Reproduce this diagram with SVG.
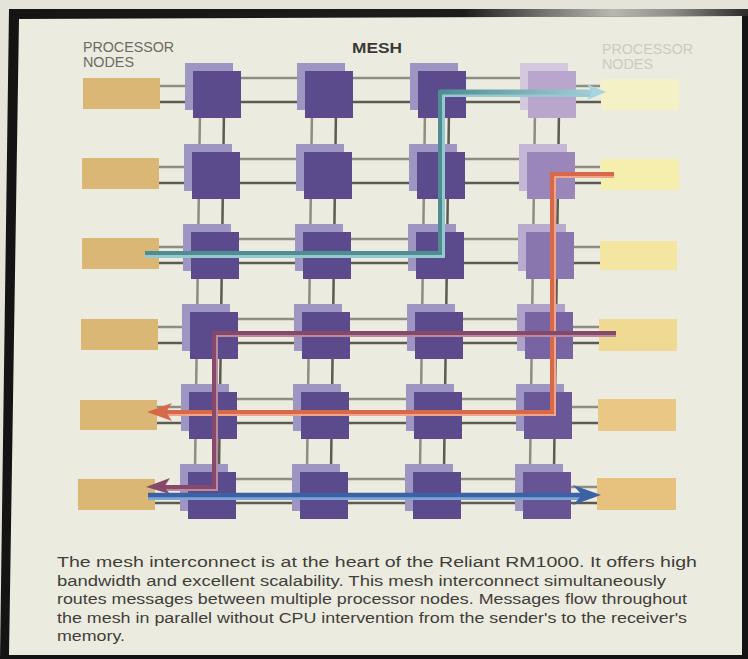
<svg xmlns="http://www.w3.org/2000/svg" width="748" height="659" viewBox="0 0 748 659">
  <style>
    .txt { font-family: "Liberation Sans", Arial, Helvetica, sans-serif; }
    .hdr { font-size: 14px; fill: #6d6a65; }
    .hdr-faint { font-size: 14px; fill: #cdcac2; }
    .title { font-size: 14px; font-weight: bold; fill: #3a3939; }
    .cap { font-size: 15.5px; fill: #3f3e3a; }
    .wire-a { stroke: #8f8d82; stroke-width: 2.5; fill: none; }
    .wire-b { stroke: #5c5b51; stroke-width: 2.5; fill: none; }
    .back { fill: #9d95c2; }
    .front { fill: #5b4b8d; }
    .pn-left { fill: #dab774; }
  </style>
  <defs>
    <linearGradient id="topBand" x1="0" y1="0" x2="748" y2="0" gradientUnits="userSpaceOnUse">
      <stop offset="0" stop-color="#151515"/>
      <stop offset="0.62" stop-color="#1c1c1c"/>
      <stop offset="0.72" stop-color="#6d6d6a"/>
      <stop offset="0.82" stop-color="#b9b8b0"/>
      <stop offset="0.9" stop-color="#8c8b86"/>
      <stop offset="1" stop-color="#2a2a2a"/>
    </linearGradient>
    <linearGradient id="tealFade" x1="440" y1="0" x2="606" y2="0" gradientUnits="userSpaceOnUse">
      <stop offset="0" stop-color="#4f8d93"/>
      <stop offset="1" stop-color="#a9d3de"/>
    </linearGradient>
  </defs>

  <!-- page and frame -->
  <rect x="0" y="0" width="748" height="659" fill="#e6e4d8"/>
  <polygon points="9,9 748,9 748,659 0,659" fill="#141414"/>
  <polygon points="9,9 748,9 748,16 9,19" fill="url(#topBand)"/>
  <polygon points="19,19 742,16 742,655 9,655" fill="#ecebdf"/>

  <!-- labels -->
  <g id="labels" class="txt">
    <text class="hdr" x="83" y="52" textLength="91" lengthAdjust="spacingAndGlyphs">PROCESSOR</text>
    <text class="hdr" x="83" y="67" textLength="51" lengthAdjust="spacingAndGlyphs">NODES</text>
    <text class="title" x="352" y="53" textLength="50" lengthAdjust="spacingAndGlyphs">MESH</text>
    <text class="hdr-faint" x="602" y="54" textLength="91" lengthAdjust="spacingAndGlyphs">PROCESSOR</text>
    <text class="hdr-faint" x="602" y="69" textLength="51" lengthAdjust="spacingAndGlyphs">NODES</text>
  </g>

  <!-- mesh links -->
  <g id="connectors">
    <!-- horizontal links, two per row -->
    <g id="row-links">
      <path class="wire-a" d="M158 86 H185 M241 78 H298 M353 78 H410 M466 78 H520 M576 86 H600"/>
      <path class="wire-b" d="M158 102 H602"/>
      <path class="wire-a" d="M157 167 H184 M240 159 H297 M352 159 H409 M465 159 H519 M575 167 H600"/>
      <path class="wire-b" d="M157 183 H601"/>
      <path class="wire-a" d="M156 247 H183 M239 239 H296 M351 239 H408 M464 239 H518 M574 247 H600"/>
      <path class="wire-b" d="M156 263 H600"/>
      <path class="wire-a" d="M155 327 H182 M238 319 H295 M350 319 H407 M463 319 H517 M573 327 H600"/>
      <path class="wire-b" d="M155 343 H599"/>
      <path class="wire-a" d="M154 407 H181 M237 399 H294 M349 399 H406 M462 399 H516 M572 407 H599"/>
      <path class="wire-b" d="M154 423 H598"/>
      <path class="wire-a" d="M153 487 H180 M236 479 H293 M348 479 H405 M461 479 H515 M571 487 H598"/>
      <path class="wire-b" d="M153 503 H598"/>
    </g>
    <!-- vertical links, two per column -->
    <g id="column-links">
      <path class="wire-a" d="M200 110 L195 470"/>
      <path class="wire-b" d="M224 110 L219 470"/>
      <path class="wire-a" d="M312 110 L307 470"/>
      <path class="wire-b" d="M336 110 L331 470"/>
      <path class="wire-a" d="M425 110 L420 470"/>
      <path class="wire-b" d="M449 110 L444 470"/>
      <path class="wire-a" d="M535 110 L530 470"/>
      <path class="wire-b" d="M559 110 L554 470"/>
    </g>
  </g>

  <!-- processor nodes, left side -->
  <g id="pn-left-1"><rect class="pn-left" x="83" y="78" width="77" height="31"/></g>
  <g id="pn-left-2"><rect class="pn-left" x="82" y="158" width="77" height="31"/></g>
  <g id="pn-left-3"><rect class="pn-left" x="82" y="238" width="77" height="31"/></g>
  <g id="pn-left-4"><rect class="pn-left" x="81" y="319" width="77" height="31"/></g>
  <g id="pn-left-5"><rect class="pn-left" x="80" y="400" width="77" height="30"/></g>
  <g id="pn-left-6"><rect class="pn-left" x="78" y="479" width="77" height="31"/></g>

  <!-- processor nodes, right side -->
  <g id="pn-right-1"><rect x="601" y="79" width="78" height="31" fill="#f4f1c6"/></g>
  <g id="pn-right-2"><rect x="601" y="159" width="78" height="31" fill="#f6eeac"/></g>
  <g id="pn-right-3"><rect x="600" y="241" width="77" height="29" fill="#f4e6a0"/></g>
  <g id="pn-right-4"><rect x="599" y="319" width="78" height="32" fill="#f0d993"/></g>
  <g id="pn-right-5"><rect x="598" y="399" width="78" height="32" fill="#eac784"/></g>
  <g id="pn-right-6"><rect x="597" y="478" width="79" height="32" fill="#e7c17e"/></g>

  <!-- mesh switches: back plate offset up-left, front plate -->
  <g id="sw-1-1"><rect class="back" x="185" y="63" width="48" height="47"/><rect class="front" x="193" y="71" width="48" height="47"/></g>
  <g id="sw-1-2"><rect class="back" x="297" y="63" width="48" height="47"/><rect class="front" x="305" y="71" width="48" height="47"/></g>
  <g id="sw-1-3"><rect class="back" x="410" y="63" width="48" height="47"/><rect class="front" x="418" y="71" width="48" height="47"/></g>
  <g id="sw-1-4"><rect x="520" y="63" width="48" height="47" fill="#d3c8de"/><rect x="528" y="71" width="48" height="47" fill="#b9a6cc"/></g>

  <g id="sw-2-1"><rect class="back" x="184" y="144" width="48" height="47"/><rect class="front" x="192" y="152" width="48" height="47"/></g>
  <g id="sw-2-2"><rect class="back" x="296" y="144" width="48" height="47"/><rect class="front" x="304" y="152" width="48" height="47"/></g>
  <g id="sw-2-3"><rect class="back" x="409" y="144" width="48" height="47"/><rect class="front" x="417" y="152" width="48" height="47"/></g>
  <g id="sw-2-4"><rect x="519" y="144" width="48" height="47" fill="#c4b7d6"/><rect x="527" y="152" width="48" height="47" fill="#9b86b9"/></g>

  <g id="sw-3-1"><rect class="back" x="183" y="224" width="48" height="47"/><rect class="front" x="191" y="232" width="48" height="47"/></g>
  <g id="sw-3-2"><rect class="back" x="295" y="224" width="48" height="47"/><rect class="front" x="303" y="232" width="48" height="47"/></g>
  <g id="sw-3-3"><rect class="back" x="408" y="224" width="48" height="47"/><rect class="front" x="416" y="232" width="48" height="47"/></g>
  <g id="sw-3-4"><rect x="518" y="224" width="48" height="47" fill="#b8abd0"/><rect x="526" y="232" width="48" height="47" fill="#8a76ae"/></g>

  <g id="sw-4-1"><rect class="back" x="182" y="304" width="48" height="47"/><rect class="front" x="190" y="312" width="48" height="47"/></g>
  <g id="sw-4-2"><rect class="back" x="294" y="304" width="48" height="47"/><rect class="front" x="302" y="312" width="48" height="47"/></g>
  <g id="sw-4-3"><rect class="back" x="407" y="304" width="48" height="47"/><rect class="front" x="415" y="312" width="48" height="47"/></g>
  <g id="sw-4-4"><rect x="517" y="304" width="48" height="47" fill="#aea1ca"/><rect x="525" y="312" width="48" height="47" fill="#7864a2"/></g>

  <g id="sw-5-1"><rect class="back" x="181" y="384" width="48" height="47"/><rect class="front" x="189" y="392" width="48" height="47"/></g>
  <g id="sw-5-2"><rect class="back" x="293" y="384" width="48" height="47"/><rect class="front" x="301" y="392" width="48" height="47"/></g>
  <g id="sw-5-3"><rect class="back" x="406" y="384" width="48" height="47"/><rect class="front" x="414" y="392" width="48" height="47"/></g>
  <g id="sw-5-4"><rect class="back" x="516" y="384" width="48" height="47"/><rect x="524" y="392" width="48" height="47" fill="#6a5797"/></g>

  <g id="sw-6-1"><rect class="back" x="180" y="464" width="48" height="47"/><rect class="front" x="188" y="472" width="48" height="47"/></g>
  <g id="sw-6-2"><rect class="back" x="292" y="464" width="48" height="47"/><rect class="front" x="300" y="472" width="48" height="47"/></g>
  <g id="sw-6-3"><rect class="back" x="405" y="464" width="48" height="47"/><rect class="front" x="413" y="472" width="48" height="47"/></g>
  <g id="sw-6-4"><rect class="back" x="515" y="464" width="48" height="47"/><rect x="523" y="472" width="48" height="47" fill="#665495"/></g>

  <!-- message routes through the mesh -->
  <g id="routes" fill="none" stroke-linejoin="miter">
    <!-- teal: left node row 3 to right node row 1 -->
    <path d="M145 255 H442 V94 H592" stroke="#95c8cf" stroke-width="6"/>
    <path d="M145 253 H440 V92 H592" stroke="#4f8d93" stroke-width="4"/>
    <path d="M440 92 H592" stroke="url(#tealFade)" stroke-width="5"/>
    <path d="M606 92 L587 84 L592 92 L587 100 Z" fill="#a9d3de" stroke="none"/>

    <!-- salmon: right node row 2 to left node row 5 -->
    <path d="M614 175 H553 V413 H162" stroke="#f1a487" stroke-width="6"/>
    <path d="M614 174 H552 V412 H162" stroke="#d8684a" stroke-width="4"/>
    <path d="M147 412 L172 403 L166 412 L172 421 Z" fill="#d8684a" stroke="none"/>

    <!-- mauve: right node row 4 to left node row 6 -->
    <path d="M616 334 H215 V488 H162" stroke="#b98aa0" stroke-width="6"/>
    <path d="M616 333 H214 V487 H162" stroke="#86496a" stroke-width="4"/>
    <path d="M146 487 L170 478 L164 487 L170 494 Z" fill="#86496a" stroke="none"/>

    <!-- blue: left node row 6 to right node row 6 -->
    <path d="M148 497 H588" stroke="#7ea4d6" stroke-width="6"/>
    <path d="M148 495 H588" stroke="#3c61a5" stroke-width="4.5"/>
    <path d="M601 495 L573 485 L582 495 L573 505 Z" fill="#3c61a5" stroke="none"/>
  </g>

  <!-- caption -->
  <g id="caption" class="txt cap">
    <text x="57" y="567" textLength="640" lengthAdjust="spacingAndGlyphs">The mesh interconnect is at the heart of the Reliant RM1000. It offers high</text>
    <text x="57" y="585.5" textLength="609" lengthAdjust="spacingAndGlyphs">bandwidth and excellent scalability. This mesh interconnect simultaneously</text>
    <text x="57" y="604" textLength="630" lengthAdjust="spacingAndGlyphs">routes messages between multiple processor nodes. Messages flow throughout</text>
    <text x="57" y="622.5" textLength="630" lengthAdjust="spacingAndGlyphs">the mesh in parallel without CPU intervention from the sender's to the receiver's</text>
    <text x="57" y="641" textLength="68" lengthAdjust="spacingAndGlyphs">memory.</text>
  </g>
</svg>
